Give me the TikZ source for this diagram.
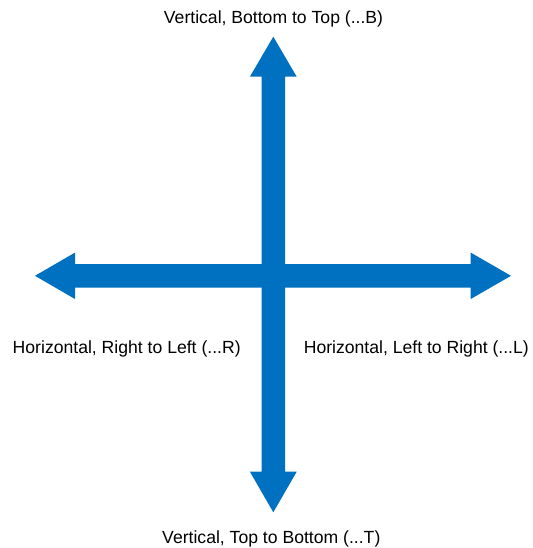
\documentclass[tikz,border=0pt]{standalone}
\usepackage{fontspec}
\setmainfont{Liberation Sans}
\definecolor{arrowblue}{HTML}{0070C0}
\begin{document}
\begin{tikzpicture}[x=1pt,y=-1pt,
  arrowshape/.style={fill=arrowblue,draw=none},
  lbl/.style={anchor=base,inner sep=0pt,text=black,font=\fontsize{17.6}{20}\selectfont}]
\useasboundingbox[fill=white] (0,0) rectangle (532,548);
% vertical double arrow
\fill[arrowshape] (273.3,36.7) -- (296.7,76.7) -- (285,76.7) -- (285,471.7) -- (296.7,471.7)
  -- (273.3,512.3) -- (249.9,471.7) -- (261.6,471.7) -- (261.6,76.7) -- (249.9,76.7) -- cycle;
% horizontal double arrow
\fill[arrowshape] (35,275.8) -- (75,252.6) -- (75,264) -- (470.7,264) -- (470.7,252.6)
  -- (511,275.8) -- (470.7,299) -- (470.7,287.6) -- (75,287.6) -- (75,299) -- cycle;
\node[lbl] (top) at (273.5,23.2) {Vertical, Bottom to Top (...B)};
\node[lbl] (bottom) at (271.3,543) {Vertical, Top to Bottom (...T)};
\node[lbl] (left) at (126.7,353.3) {Horizontal, Right to Left (...R)};
\node[lbl] (right) at (416.3,353.3) {Horizontal, Left to Right (...L)};
\end{tikzpicture}
\end{document}
